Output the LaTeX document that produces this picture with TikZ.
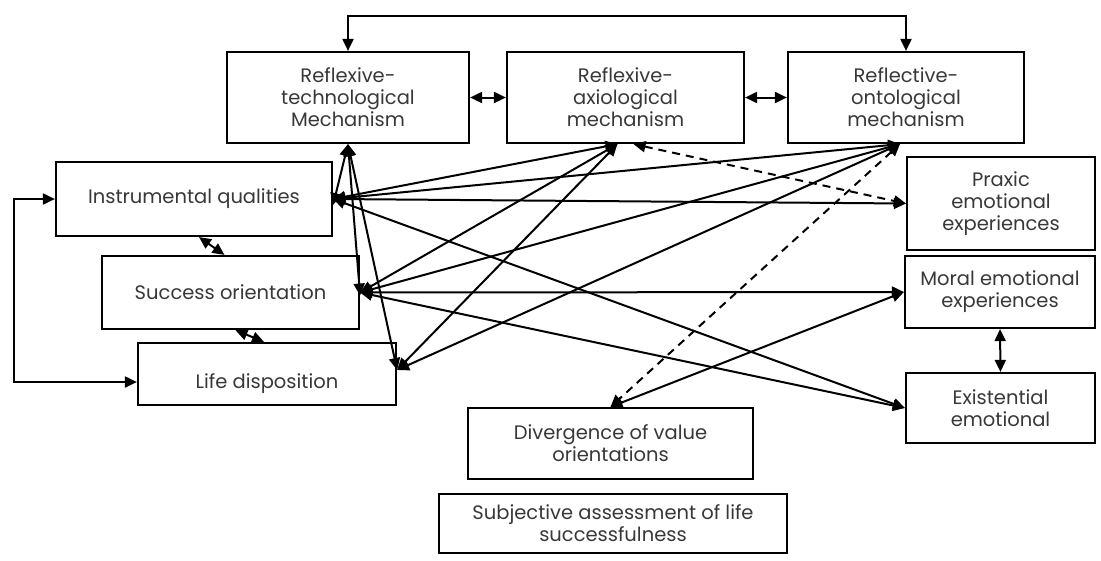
\documentclass[tikz,border=0pt]{standalone}
\usepackage{fontspec}
\setmainfont{Poppins}
\usetikzlibrary{arrows.meta}
\begin{document}
\begin{tikzpicture}[x=1pt,y=-1pt,
 box/.style={draw,line width=2.2pt,align=center,inner sep=0pt,font=\fontsize{19.5}{22}\selectfont,text=black!78},
 arr/.style={line width=2pt,{Triangle[length=12pt,width=11pt]}-{Triangle[length=12pt,width=11pt]}},
 dsh/.style={arr,dash pattern=on 8pt off 6pt}]
\useasboundingbox[fill=white] (0,0) rectangle (1101,560);
% top row
\node[box,minimum width=242pt,minimum height=91pt] (RT) at (348,97.5) {Reflexive-\\technological\\Mechanism};
\node[box,minimum width=237pt,minimum height=91pt] (RA) at (625.5,97.5) {Reflexive-\\axiological\\mechanism};
\node[box,minimum width=236pt,minimum height=91pt] (RO) at (906,97.5) {Reflective-\\ontological\\mechanism};
% left column
\node[box,minimum width=276pt,minimum height=74pt] (IQ) at (194,199) {Instrumental qualities};
\node[box,minimum width=257pt,minimum height=73pt] (SO) at (230.5,292.5) {Success orientation};
\node[box,minimum width=258pt,minimum height=62pt] (LD) at (267,374) {\raisebox{-14pt}[0pt][0pt]{Life disposition}};
% right column
\node[box,minimum width=188pt,minimum height=93pt] (PE) at (1001,203.5) {Praxic\\emotional\\experiences};
\node[box,minimum width=190pt,minimum height=72pt] (ME) at (1000,292) {Moral emotional\\experiences};
\node[box,minimum width=189pt,minimum height=70pt] (EE) at (1000.5,408) {Existential\\emotional};
% bottom
\node[box,minimum width=285pt,minimum height=71pt] (DV) at (610.5,443.5) {Divergence of value\\orientations};
\node[box,minimum width=348pt,minimum height=59pt] (SA) at (613,523.5) {Subjective assessment of life\\successfulness};
% loops
\coordinate (top) at (0,16);
\coordinate (lft) at (14,0);
\draw[arr] (RT.north) -- (RT.north |- top) -- (RO.north |- top) -- (RO.north);
\draw[arr] (IQ.west) -- (IQ.west -| lft) -- ([yshift=-8pt]LD.west -| lft) -- ([yshift=-8pt]LD.west);
% neighbours
\draw[arr] (RT.east) -- (RA.west);
\draw[arr] (RA.east) -- (RO.west);
\draw[arr] ([xshift=5pt]IQ.south) -- ([xshift=-6pt]SO.north);
\draw[arr] ([xshift=5pt]SO.south) -- ([xshift=-3pt]LD.north);
\draw[arr] (ME.south) -- (EE.north);
% technological mechanism
\draw[arr] (RT.south) -- ([yshift=-6pt]IQ.east);
\draw[arr] (RT.south) -- ([yshift=-3pt]SO.east);
\draw[arr] (RT.south) -- ([yshift=4pt]LD.east);
% axiological mechanism
\draw[arr] ([xshift=-8pt]RA.south) -- (IQ.east);
\draw[arr] ([xshift=-8pt]RA.south) -- (SO.east);
\draw[arr] ([xshift=-8pt]RA.south) -- ([yshift=4pt]LD.east);
% ontological mechanism
\draw[arr] ([xshift=-6pt]RO.south) -- (IQ.east);
\draw[arr] ([xshift=-6pt]RO.south) -- (SO.east);
\draw[arr] ([xshift=-6pt]RO.south) -- ([yshift=4pt]LD.east);
% emotional experiences
\draw[arr] (IQ.east) -- (PE.west);
\draw[arr] (IQ.east) -- (EE.west);
\draw[arr] (SO.east) -- (ME.west);
\draw[arr] (SO.east) -- (EE.west);
\draw[arr] (ME.west) -- (DV.north);
% dashed
\draw[dsh] ([xshift=8pt]RA.south) -- (PE.west);
\draw[dsh] ([xshift=-6pt]RO.south) -- (DV.north);
\end{tikzpicture}
\end{document}
